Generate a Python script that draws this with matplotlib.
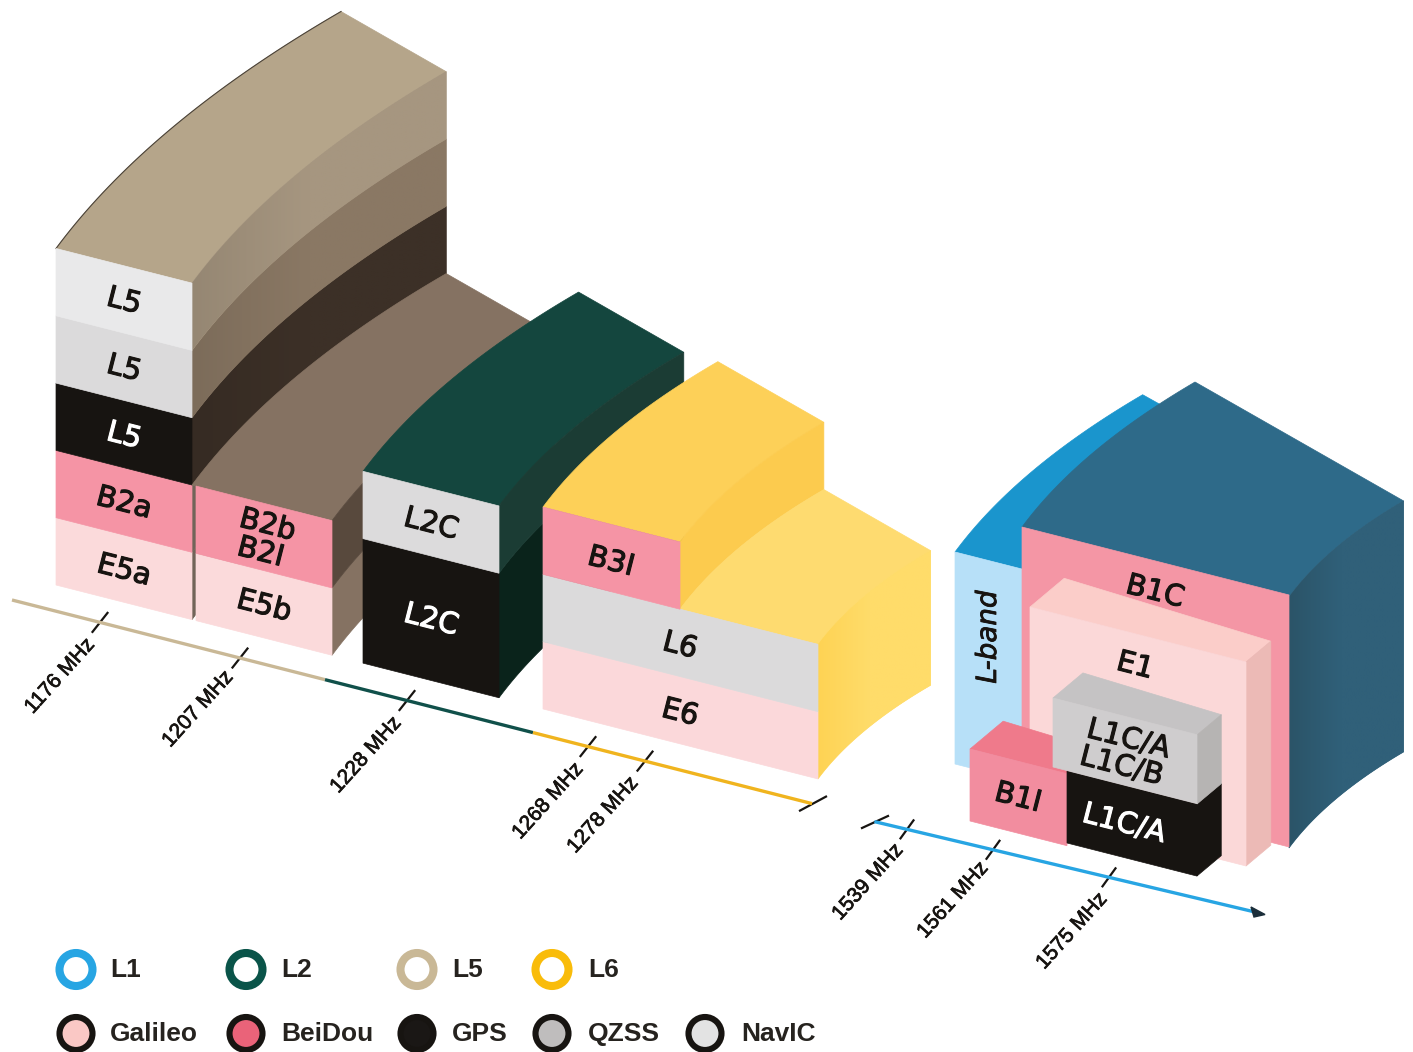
import numpy as np
import matplotlib
matplotlib.use('Agg')
import matplotlib.pyplot as plt
import matplotlib.patheffects as pe
from matplotlib.colors import to_rgb
from matplotlib.patches import Circle, Polygon

# frequency axes
low_ticks = ['1176 MHz', '1207 MHz', '1228 MHz', '1268 MHz', '1278 MHz']
low_tick_x = [100, 240, 407, 588, 645]
low_label_xy = [(60, 676), (198, 709), (366, 755), (548, 801), (603, 815)]
high_ticks = ['1539 MHz', '1561 MHz', '1575 MHz']
high_tick_x = [907, 993, 1109]
high_label_xy = [(868, 882), (953, 900), (1072, 931)]

# signal stacks of the lower bands, heights in rows
l5_labels = ['E5a', 'B2a', 'L5', 'L5', 'L5']
l5_levels = [0, 1, 2, 3, 4, 5]
l5_front = ['#fbdadb', '#f594a5', '#171411', '#dbdadb', '#e9e9ea']
l5_side = ['#7e7063', '#7e7063', '#3c3027', '#8a7864', '#a69680']

b2_labels = ['E5b', 'B2b\nB2I']
b2_levels = [0, 1, 2]
b2_front = ['#fbdadb', '#f594a5']
b2_side = ['#857262', '#58493d']

l2_labels = ['L2C', 'L2C']
l2_levels = [0, 1.85, 2.85]
l2_front = ['#171411', '#dcdbdc']
l2_side = ['#0a231b', '#1b3c34']

l6_labels = ['E6', 'L6', 'B3I']
l6_levels = [0, 1, 2, 3]
l6_front = ['#fbd8da', '#dbdadb', '#f594a5']

# legend
band_names = ['L1', 'L2', 'L5', 'L6']
band_colors = ['#27a5e3', '#0a5449', '#c9b896', '#f9bc0a']
system_names = ['Galileo', 'BeiDou', 'GPS', 'QZSS', 'NavIC']
system_colors = ['#fac8c5', '#ea6379', '#1a1715', '#bfbdbd', '#e3e3e3']
legend_x = [76, 246, 417, 552, 705]
legend_text_x = [110, 281, 452, 588, 741]

W, H = 1413, 1052
ROW = 67.3
SLOPE = 0.2545
ANGLE = -14.3
DARK = '#171411'

# the sides bend round a far centre, nearer lanes have shorter sides
MAIN = dict(cx=1316, xr=56, ex=285, ey=-237, qx=93.5, qy=-126)
RIGHT = dict(cx=1813, xr=1022, ex=173, ey=-145, qx=56.8, qy=-77)

fig = plt.figure(figsize=(W / 100, H / 100), dpi=100)
ax = fig.add_axes([0, 0, 1, 1])
ax.set_xlim(0, W)
ax.set_ylim(H, 0)
ax.axis('off')
z = [10]


def add(poly, color):
    z[0] += 0.01
    p = Polygon(poly, closed=True, fc=color, ec=color, lw=0.5, zorder=z[0])
    ax.add_patch(p)
    return p


def curve(x, y, g, d=1.0, n=41):
    k = (g['cx'] - x) / (g['cx'] - g['xr']) * d
    t = np.linspace(0, 1, n)
    # small boxes in front are straight, only the tall sides bend
    qx, qy = (g['qx'], g['qy']) if d == 1.0 else (g['ex'] / 2, g['ey'] / 2)
    return np.column_stack([x + 2 * t * (1 - t) * qx * k + t ** 2 * g['ex'] * k,
                            y + 2 * t * (1 - t) * qy * k + t ** 2 * g['ey'] * k])


def top_face(x0, y0, x1, y1, color, g, d=1.0):
    add(np.vstack([curve(x0, y0, g, d), curve(x1, y1, g, d)[::-1]]), color)


def side_face(x, y_top, y_bot, colors, g, d=1.0):
    a = curve(x, y_top, g, d)
    b = curve(x, y_bot, g, d)
    poly = np.vstack([a, b[::-1]])
    p = add(poly, colors[1])
    if colors[0] == colors[1]:
        return
    # colour drifts along the bend, the gradient is clipped to the face
    c0 = np.array(to_rgb(colors[0]))
    c1 = np.array(to_rgb(colors[1]))
    f = np.minimum(np.linspace(0, 1, 64) * 2.2, 1)[None, :, None]
    img = c0 + (c1 - c0) * f
    z[0] += 0.01
    im = ax.imshow(img, extent=(poly[:, 0].min(), poly[:, 0].max(), poly[:, 1].max(), poly[:, 1].min()),
                   aspect='auto', interpolation='bilinear', zorder=z[0])
    im.set_clip_path(p)


def front_face(x0, x1, y0_top, y0_bot, color):
    dy = (x1 - x0) * SLOPE
    add([(x0, y0_top), (x1, y0_top + dy), (x1, y0_bot + dy), (x0, y0_bot)], color)


def label(x, y, s, color=DARK, size=21, rot=ANGLE):
    t = ax.text(x, y, s, color=color, fontsize=size, rotation=rot, rotation_mode='anchor',
                ha='center', va='center', family='DejaVu Sans', linespacing=1.0, zorder=500)
    t.set_path_effects([pe.withStroke(linewidth=0.8, foreground=color)])


def ground(x):
    return 585 + (x - 56) * SLOPE


def stack(x0, x1, levels, fronts, labels, text_colors):
    for i in range(len(fronts)):
        y0 = ground(x0)
        top = y0 - levels[i + 1] * ROW
        bot = y0 - levels[i] * ROW
        front_face(x0, x1, top, bot, fronts[i])
        mx = (x0 + x1) / 2
        my = (top + bot) / 2 + (mx - x0) * SLOPE
        label(mx, my + 2, labels[i], color=text_colors[i])


def darker(c, f):
    return tuple(np.array(to_rgb(c)) * f)


# L5 column at the back
x0, x1 = 56, 192
top_face(x0, ground(x0) - 5 * ROW, x1, ground(x1) - 5 * ROW, '#b5a58a', MAIN)
for i in range(5):
    side_face(x1, ground(x1) - l5_levels[i + 1] * ROW, ground(x1) - l5_levels[i] * ROW,
              (darker(l5_side[i], 0.9), l5_side[i]), MAIN)
ax.plot(*curve(x0, ground(x0) - 5 * ROW, MAIN).T, color='#4a4238', lw=0.8, zorder=z[0])
stack(x0, x1, l5_levels, l5_front, l5_labels, [DARK, DARK, 'white', DARK, DARK])

# E5b / B2b block
x0, x1 = 196, 332
top_face(192, ground(192) - 2 * ROW, x1, ground(x1) - 2 * ROW, '#857262', MAIN)
for i in range(2):
    side_face(x1, ground(x1) - b2_levels[i + 1] * ROW, ground(x1) - b2_levels[i] * ROW,
              (b2_side[i], b2_side[i]), MAIN)
stack(x0, x1, b2_levels, b2_front, b2_labels, [DARK, DARK])

# L2C block
x0, x1 = 363, 499
top_face(x0, ground(x0) - l2_levels[2] * ROW, x1, ground(x1) - l2_levels[2] * ROW, '#14463e', MAIN)
for i in range(2):
    side_face(x1, ground(x1) - l2_levels[i + 1] * ROW, ground(x1) - l2_levels[i] * ROW,
              (l2_side[i], l2_side[i]), MAIN)
stack(x0, x1, l2_levels, l2_front, l2_labels, ['white', DARK])

# E6 / L6 / B3I block, stepped
x0, xm, x1 = 543, 680, 818
top_face(x0, ground(x0) - 3 * ROW, xm, ground(xm) - 3 * ROW, '#fdd058', MAIN)
side_face(xm, ground(xm) - 3 * ROW, ground(xm) - 2 * ROW, ('#fccb4e', '#fccb4e'), MAIN)
top_face(xm, ground(xm) - 2 * ROW, x1, ground(x1) - 2 * ROW, '#fedb70', MAIN)
side_face(x1, ground(x1) - 2 * ROW, ground(x1), ('#fed354', '#ffdc6a'), MAIN)
front_face(x0, x1, ground(x0) - ROW, ground(x0), l6_front[0])
front_face(x0, x1, ground(x0) - 2 * ROW, ground(x0) - ROW, l6_front[1])
front_face(x0, xm, ground(x0) - 3 * ROW, ground(x0) - 2 * ROW, l6_front[2])
label(680, 713, l6_labels[0])
label(680, 646, l6_labels[1])
label(611, 562, l6_labels[2])

# L1 group on the right
top_face(955, 552, 1022, 569, '#1a95cd', RIGHT)
front_face(955, 1022, 552, 764, '#b7e0f8')
top_face(1022, 527, 1289, 597, '#2e6a89', RIGHT)
side_face(1289, 597, 848, ('#2b5468', '#306079'), RIGHT)
front_face(1022, 1289, 527, 779, '#f496a5')

# E1 plate
top_face(1030, 607, 1246, 662, '#fbcdc9', RIGHT, 0.2)
side_face(1246, 662, 866, ('#ecbab6', '#ecbab6'), RIGHT, 0.2)
front_face(1030, 1246, 607, 811, '#fbd8d8')

# B1I, L1C/A and the grey L1C/A L1C/B box
top_face(970, 749, 1067, 774, '#ef7a8b', RIGHT, 0.18)
front_face(970, 1067, 749, 821, '#f28d9f')
side_face(1197, 804, 876, (DARK, DARK), RIGHT, 0.18)
front_face(1067, 1197, 771, 843, DARK)
top_face(1053, 698, 1197, 735, '#c5c3c4', RIGHT, 0.18)
side_face(1197, 735, 804, ('#b6b4b3', '#b6b4b3'), RIGHT, 0.18)
front_face(1053, 1197, 698, 767, '#cfcdce')

label(1155, 592, 'B1C')
label(1135, 666, 'E1')
label(1125, 753, 'L1C/A\nL1C/B')
label(1124, 824, 'L1C/A', color='white')
label(1018, 798, 'B1I')
t = ax.text(988, 637, 'L-band', color=DARK, fontsize=20, rotation=90, ha='center', va='center',
            fontstyle='italic', family='DejaVu Sans', zorder=500)
t.set_path_effects([pe.withStroke(linewidth=0.6, foreground=DARK)])


# frequency axes
def low_y(x):
    return 600 + (x - 12) * 0.2545


def high_y(x):
    return 822 + (x - 876) * 0.2375


def tick(x, y, dx, dy):
    ax.plot([x - dx, x + dx], [y + dy, y - dy], color=DARK, lw=1.6, zorder=599)


for x in low_tick_x:
    tick(x, low_y(x), 7.5, 9.5)
for x in high_tick_x:
    tick(x, high_y(x), 6.5, 9)
tick(813, low_y(812), 13, 7)
tick(875, high_y(876), 13, 6)

for xa, xb, c in [(12, 325, '#c9b896'), (325, 533, '#10504a'), (533, 812, '#f0b41e')]:
    ax.plot([xa, xb], [low_y(xa), low_y(xb)], color=c, lw=2.4, solid_capstyle='butt', zorder=600)
ax.plot([876, 1256], [high_y(876), high_y(1256)], color='#27a5e3', lw=2.4, zorder=600)
ax.fill([1265, 1251, 1254], [914.5, 907, 917], color='#1b2e3a', zorder=601)

for s, (x, y) in zip(low_ticks + high_ticks, low_label_xy + high_label_xy):
    t = ax.text(x, y, s, color=DARK, fontsize=15, rotation=48, rotation_mode='anchor', ha='center',
                va='center', family='Liberation Sans', zorder=600)
    t.set_path_effects([pe.withStroke(linewidth=0.5, foreground=DARK)])

# legend rings and dots
for name, c, x, tx in zip(band_names, band_colors, legend_x, legend_text_x):
    ax.add_patch(Circle((x, 969.5), 16.5, fc='white', ec=c, lw=5.8, zorder=600))
    ax.text(tx, 970, name, color='#26231f', fontsize=19, fontweight='bold', va='center',
            family='Liberation Sans', zorder=600)
for name, c, x, tx in zip(system_names, system_colors, legend_x, legend_text_x):
    ax.add_patch(Circle((x, 1033.5), 16.5, fc=c, ec=DARK, lw=4.4, zorder=600))
    ax.text(tx, 1034, name, color='#26231f', fontsize=19, fontweight='bold', va='center',
            family='Liberation Sans', zorder=600)

ax.set_xlim(0, W)
ax.set_ylim(H, 0)
fig.savefig('out.png', dpi=100, facecolor='white')
